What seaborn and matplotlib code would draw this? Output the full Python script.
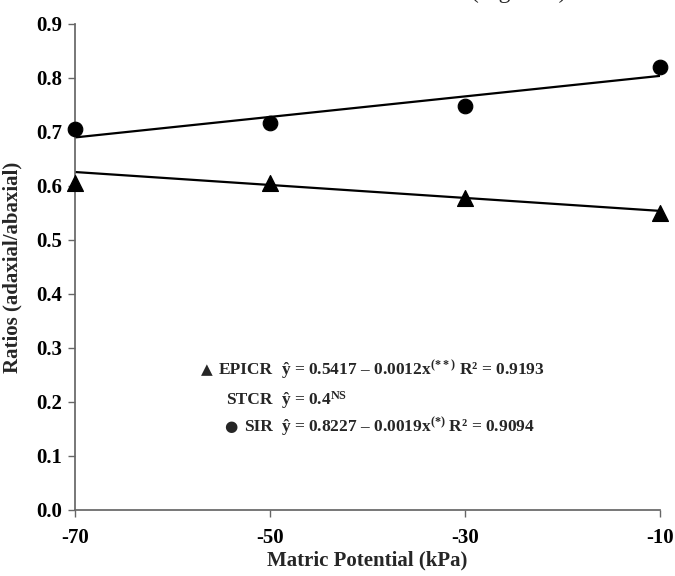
import numpy as np
import pandas as pd
import matplotlib
matplotlib.use("Agg")
import matplotlib.pyplot as plt
import seaborn as sns

# data
potential = [-70, -50, -30, -10]
epicr = [0.606, 0.605, 0.578, 0.550]
sir = [0.705, 0.716, 0.747, 0.821]

# fitted lines (intercept, slope) as drawn in the figure
epicr_fit = (0.5417, -0.0012)
sir_fit = (0.8227, 0.0019)

sns.set_theme(style="ticks")
plt.rcParams["font.family"] = ["Liberation Serif", "DejaVu Sans"]
plt.rcParams["font.weight"] = "bold"
plt.rcParams["axes.unicode_minus"] = False
plt.rcParams["mathtext.fontset"] = "custom"
plt.rcParams["mathtext.rm"] = "Liberation Serif:bold"
plt.rcParams["mathtext.it"] = "Liberation Serif:bold"
plt.rcParams["mathtext.bf"] = "Liberation Serif:bold"

fig = plt.figure(figsize=(6.75, 5.76), dpi=100)
ax = fig.add_axes([0.111, 0.1146, 0.867, 0.844])

df = pd.DataFrame({"x": potential, "EPICR": epicr, "SIR": sir})
xs = np.array(potential)
lines = pd.DataFrame({
    "x": xs,
    "EPICR": epicr_fit[0] + epicr_fit[1] * xs,
    "SIR": sir_fit[0] + sir_fit[1] * xs,
})

sns.lineplot(data=lines, x="x", y="EPICR", color="black", lw=1.6, ax=ax)
sns.lineplot(data=lines, x="x", y="SIR", color="black", lw=1.6, ax=ax)
sns.scatterplot(data=df, x="x", y="EPICR", marker="^", s=130, color="black",
                edgecolor="black", ax=ax, zorder=3, clip_on=False)
sns.scatterplot(data=df, x="x", y="SIR", marker="o", s=110, color="black",
                edgecolor="black", ax=ax, zorder=3, clip_on=False)

ax.set_xlim(-70, -10)
ax.set_ylim(0, 0.9)
ax.set_xticks(potential)
ax.set_yticks(np.arange(0, 0.91, 0.1))
ax.set_yticklabels([f"{v:.1f}" for v in np.arange(0, 0.91, 0.1)])
ax.tick_params(labelsize=15, length=5, width=1, color="#666666",
               labelcolor="black", pad=4)
ax.tick_params(axis="x", pad=8)
for lab in ax.get_xticklabels() + ax.get_yticklabels():
    lab.set_fontweight("bold")
sns.despine(ax=ax)
ax.spines["left"].set_color("#666666")
ax.spines["bottom"].set_color("#666666")

ax.set_xlabel("Matric Potential (kPa)", fontsize=15, fontweight="bold", labelpad=2)
ax.set_ylabel("Ratios (adaxial/abaxial)", fontsize=15, fontweight="bold",
              labelpad=10)

# equation block
fs = 12.5
kw = dict(transform=ax.transAxes, va="center", fontsize=fs, fontweight="bold")
ax.text(0.226, 0.289, "▲", ha="center", family="DejaVu Sans",
        **{**kw, "fontsize": 11})
ax.text(0.338, 0.288, "EPICR", ha="right", **kw)
ax.text(0.352, 0.288, r"ŷ = 0.5417 – 0.0012x$^{(**)}$ R² = 0.9193", ha="left", **kw)
ax.text(0.338, 0.226, "STCR", ha="right", **kw)
ax.text(0.352, 0.226, r"ŷ = 0.4$^{\mathrm{NS}}$", ha="left", **kw)
ax.text(0.266, 0.172, "●", ha="center", family="DejaVu Sans",
        **{**kw, "fontsize": 11})
ax.text(0.338, 0.171, "SIR", ha="right", **kw)
ax.text(0.352, 0.171, r"ŷ = 0.8227 – 0.0019x$^{(*)}$ R² = 0.9094", ha="left", **kw)

# caption fragment cut off at the top of the page
fig.text(0.769, 1.003, "(Figure 4)", ha="center", va="baseline", fontsize=17,
         fontweight="normal")

fig.savefig("out.png", dpi=100)
